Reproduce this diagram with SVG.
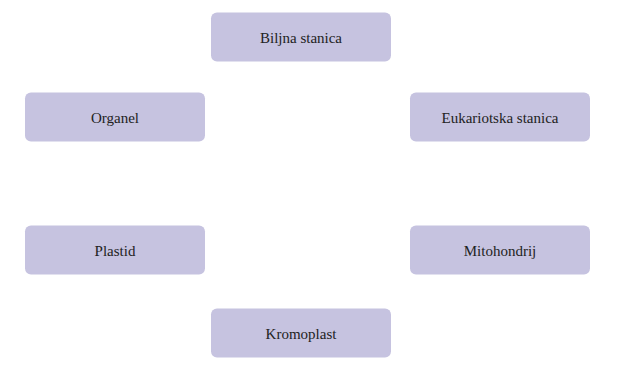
<svg xmlns="http://www.w3.org/2000/svg" width="617" height="386" viewBox="0 0 617 386">
<style>
.box{fill:#c6c3e0;}
.lbl{font-family:"Liberation Serif","Times New Roman",serif;font-size:15px;fill:#222;text-anchor:middle;}
</style>
<rect width="617" height="386" fill="#ffffff"/>
<g id="connectors"></g>
<g id="biljna-stanica"><rect class="box" x="211" y="12.5" width="180" height="49" rx="6"/><text class="lbl" x="301" y="43">Biljna stanica</text></g>
<g id="organel"><rect class="box" x="25" y="92.5" width="180" height="49" rx="6"/><text class="lbl" x="115" y="123">Organel</text></g>
<g id="eukariotska-stanica"><rect class="box" x="410" y="92.5" width="180" height="49" rx="6"/><text class="lbl" x="500" y="123">Eukariotska stanica</text></g>
<g id="plastid"><rect class="box" x="25" y="225.5" width="180" height="49" rx="6"/><text class="lbl" x="115" y="256">Plastid</text></g>
<g id="mitohondrij"><rect class="box" x="410" y="225.5" width="180" height="49" rx="6"/><text class="lbl" x="500" y="256">Mitohondrij</text></g>
<g id="kromoplast"><rect class="box" x="211" y="308.5" width="180" height="49" rx="6"/><text class="lbl" x="301" y="339">Kromoplast</text></g>
</svg>
